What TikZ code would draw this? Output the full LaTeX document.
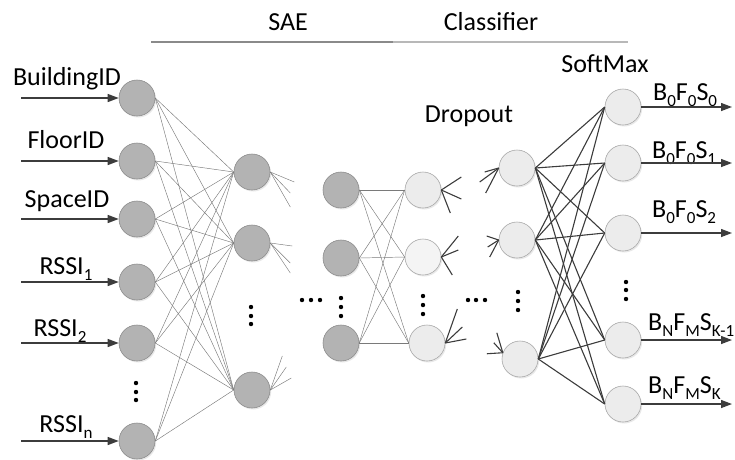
\documentclass[tikz,border=0pt]{standalone}
\usepackage{fontspec}
\setmainfont{Carlito}
\usetikzlibrary{arrows.meta,shadows}
\definecolor{dfill}{HTML}{B3B3B3}
\definecolor{dline}{HTML}{8C8C8C}
\definecolor{lfill}{HTML}{ECECEC}
\definecolor{lline}{HTML}{A8A8A8}
\definecolor{ink}{HTML}{3C3C3C}
\definecolor{wire}{HTML}{7A7A7A}
\definecolor{saebar}{HTML}{8A8A8A}
\definecolor{clsbar}{HTML}{B8B8B8}
\newcommand\lsub[1]{\raisebox{-6pt}{\fontsize{17}{17}\selectfont #1}}
\begin{document}
\begin{tikzpicture}[x=1pt,y=-1pt,
  neuron/.style={circle,minimum size=36pt,inner sep=0pt,line width=0.6pt,
    drop shadow={opacity=0.18,shadow xshift=1.2pt,shadow yshift=-1.5pt}},
  dark/.style={neuron,draw=dline,fill=dfill},
  light/.style={neuron,draw=lline,fill=lfill},
  thinwire/.style={draw=wire,line width=0.45pt},
  boldwire/.style={draw=ink,line width=1.1pt},
  io/.style={draw=ink,line width=1.3pt,-{Triangle[length=11pt,width=8pt]}},
  lbl/.style={font=\fontsize{26}{30}\selectfont,inner sep=0pt,anchor=base},
  olbl/.style={lbl,anchor=base west},
  dot/.style={circle,fill=black,inner sep=0pt,minimum size=4.4pt}
]
\useasboundingbox (0,0) rectangle (735,459);

% section headings and their rule
\node[lbl] (sae) at (288,30) {SAE};
\node[lbl] (cls) at (491,30) {Classifier};
\coordinate (r0) at (151,42);
\coordinate (r1) at (393,42);
\coordinate (r2) at (628,42);
\draw[saebar,line width=2pt] (r0) -- (r1);
\draw[clsbar,line width=1.3pt] (r1) -- (r2);
\node[lbl] (smx) at (605,72) {SoftMax};
\node[lbl] (drp) at (469,122) {Dropout};

% input layer
\foreach \k/\y in {1/98,2/161,3/219,4/282,5/343,6/441}
  \node[dark] (i\k) at (137,\y) {};
% first hidden layer
\foreach \k/\y in {1/172,2/243,3/390}
  \node[dark] (a\k) at (252,\y) {};
% last encoder layer
\foreach \k/\y in {1/190,2/258,3/343}
  \node[dark] (b\k) at (341,\y) {};
% dropout layers
\node[light] (c1) at (423,190) {};
\node[light,fill=lfill!60!white] (c2) at (423,257) {};
\node[light] (c3) at (427,343) {};
\node[light] (d1) at (517,168) {};
\node[light] (d2) at (517,240) {};
\node[light] (d3) at (520,359) {};
% softmax layer
\foreach \k/\y in {1/107,2/163,3/233,4/340,5/404}
  \node[light] (s\k) at (623,\y) {};

% input labels and arrows
\node[lbl] (l1) at (67,85) {BuildingID};
\node[lbl] (l2) at (66,148) {FloorID};
\node[lbl] (l3) at (67,207) {SpaceID};
\node[lbl] (l4) at (66,274) {RSSI\lsub{1}};
\node[lbl] (l5) at (60,336) {RSSI\lsub{2}};
\node[lbl] (l6) at (66,432) {RSSI\lsub{n}};
\foreach \k/\y in {1/98,2/161,3/219,4/282,5/343,6/441}{
  \coordinate (in\k) at (21,\y);
  \draw[io] (in\k) -- (i\k.west);
}

% output labels and arrows
\node[olbl] (o1) at (653,100) {B\lsub{0}F\lsub{0}S\lsub{0}};
\node[olbl] (o2) at (652,158) {B\lsub{0}F\lsub{0}S\lsub{1}};
\node[olbl] (o3) at (652,217) {B\lsub{0}F\lsub{0}S\lsub{2}};
\node[olbl] (o4) at (648,330) {B\lsub{N}F\lsub{M}S\lsub{K-1}};
\node[olbl] (o5) at (648,393) {B\lsub{N}F\lsub{M}S\lsub{K}};
\foreach \k/\y in {1/107,2/163,3/233,4/340,5/404}{
  \coordinate (out\k) at (732,\y);
  \draw[io] (s\k.east) -- (out\k);
}

% fully connected wiring
\foreach \p in {1,...,6}
  \foreach \q in {1,2,3}
    \draw[thinwire] (i\p.east) -- (a\q.west);
\foreach \p in {1,2,3}
  \foreach \q in {1,2,3}
    \draw[thinwire] (b\p.east) -- (c\q.west);
\foreach \p in {1,2,3}
  \foreach \q in {1,...,5}
    \draw[boldwire] (d\p.east) -- (s\q.west);

% loose ends leaving the first hidden layer
\foreach \n/\dx/\dy [count=\k] in {a1/24/10,a1/20/21,a1/20/35,
    a2/22/3,a2/20/20,a2/20/30,a3/12/-34,a3/16/-23,a3/21/-12}{
  \coordinate (ta\k) at ([shift={(\dx,\dy)}]\n.east);
  \draw[thinwire] (\n.east) -- (ta\k);
}
% loose ends at the first dropout layer
\foreach \n/\dx/\dy [count=\k] in {c1/20/-13,c1/20/9,c1/9/23,
    c2/17/-21,c2/17/-7,c2/11/18,c3/12/-34,c3/17/-16,c3/21/-4}{
  \coordinate (tc\k) at ([shift={(\dx,\dy)}]\n.east);
  \draw[boldwire] (\n.east) -- (tc\k);
}
% loose ends entering the second dropout layer
\foreach \n/\a/\dx/\dy [count=\k] in {d1/west/-19/14,d1/west/-13/25,d1/west/-14/4,
    d2/west/-12/-4,d2/west/-11/7,d2/west/-9/17,
    d3/160/-16/1,d3/160/-6/-20,d3/160/-9/-10}{
  \coordinate (td\k) at ([shift={(\dx,\dy)}]\n.\a);
  \draw[boldwire] (td\k) -- (\n.\a);
}

% ellipses
\foreach \c/\x/\ya/\yb/\yc in {v1/136/383/392/400, v2/251/307/316/324,
    v3/341/298/307/316, v4/423/296/305/314, v5/518/292/301/310,
    v6/626/282/290/299}{
  \node[dot] (\c a) at (\x,\ya) {};
  \node[dot] (\c b) at (\x,\yb) {};
  \node[dot] (\c c) at (\x,\yc) {};
}
\foreach \c/\xa/\xb/\xc in {h1/302/311/320, h2/468/476/485}{
  \node[dot] (\c a) at (\xa,300) {};
  \node[dot] (\c b) at (\xb,300) {};
  \node[dot] (\c c) at (\xc,300) {};
}
\end{tikzpicture}
\end{document}
